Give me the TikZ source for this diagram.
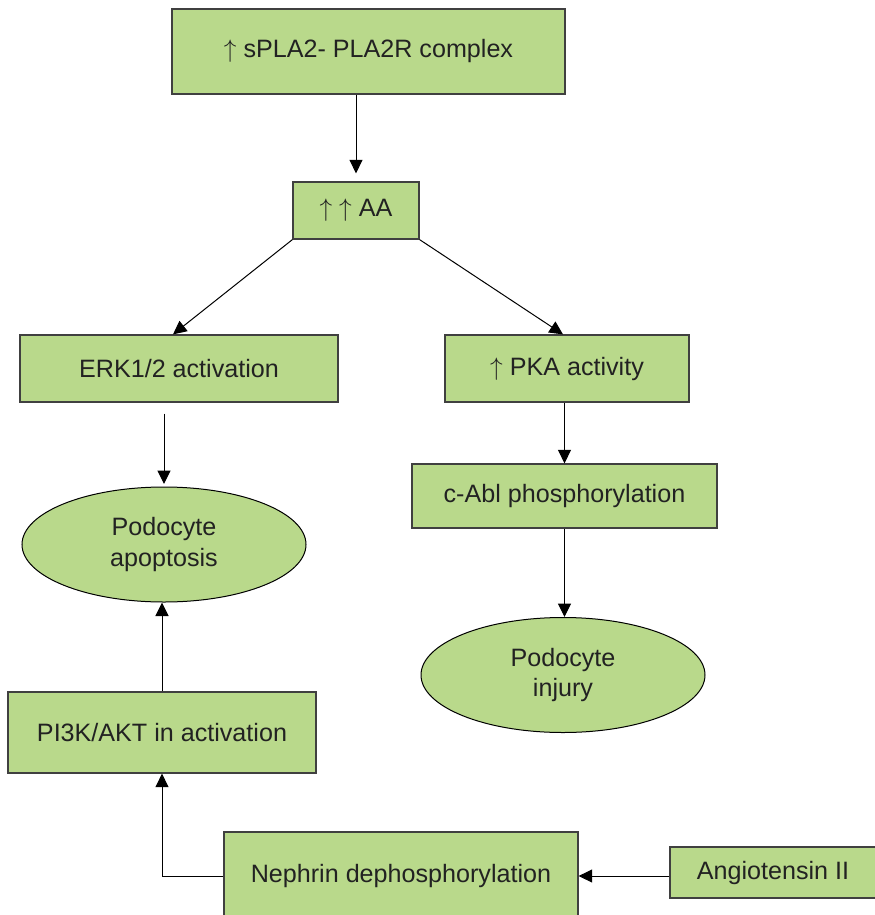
\documentclass[tikz,border=0pt]{standalone}
\usepackage{fontspec}
\setmainfont{Liberation Sans}
\usepackage{xcolor}
\definecolor{leaf_green}{RGB}{185,217,139}
\definecolor{dark_gray}{RGB}{64,64,64}
\definecolor{text_black}{RGB}{34,34,34}
\usepackage{tikz}
\usetikzlibrary{shapes.geometric, arrows.meta}
\tikzstyle{block} = [
    rectangle, text centered, inner sep=0mm,
    line width=0.25mm, draw=dark_gray, fill=leaf_green, text=text_black,
    font=\fontsize{14.3}{17.5}\selectfont,
]
\tikzstyle{outcome} = [
    ellipse, align=center, inner sep=0mm,
    line width=0.2mm, draw=black, fill=leaf_green, text=text_black,
    font=\fontsize{14.3}{17.5}\selectfont,
]
\tikzstyle{arrow} = [line width=0.2mm, -{Triangle[length=2.7mm, width=2.6mm]}, black]

\begin{document}
\begin{tikzpicture}
    \useasboundingbox (0,0) rectangle (17.5,-18.3);

    % upper nodes
    \node[block, minimum width=7.86cm, minimum height=1.7cm] (spla_complex) at (7.37,-1.03) {$\uparrow$ sPLA2- PLA2R complex\hspace{0.3cm}};
    \node[block, minimum width=2.52cm, minimum height=1.14cm] (aa_level) at (7.12,-4.21) {$\uparrow$ $\uparrow$ AA};

    % left branch nodes
    \node[block, minimum width=6.36cm, minimum height=1.34cm] (erk_activation) at (3.58,-7.37) {ERK1/2 activation};
    \node[outcome, minimum width=5.68cm, minimum height=2.3cm] (podocyte_apoptosis) at (3.28,-10.89) {Podocyte\\apoptosis};
    \node[block, minimum width=6.16cm, minimum height=1.62cm] (pi3k_akt) at (3.24,-14.65) {PI3K/AKT in activation};

    % right branch nodes
    \node[block, minimum width=4.88cm, minimum height=1.34cm] (pka_activity) at (11.34,-7.37) {$\uparrow$ PKA activity};
    \node[block, minimum width=6.1cm, minimum height=1.28cm] (cabl_phos) at (11.29,-9.92) {c-Abl phosphorylation\hspace{0.3cm}};
    \node[outcome, minimum width=5.68cm, minimum height=2.3cm] (podocyte_injury) at (11.26,-13.5) {Podocyte\\injury};

    % bottom nodes
    \node[block, minimum width=7.08cm, minimum height=1.76cm] (nephrin_dephos) at (8.02,-17.52) {\raisebox{-0.06cm}{Nephrin dephosphorylation}};
    \node[block, minimum width=4.12cm, minimum height=1.02cm] (angiotensin) at (15.46,-17.45) {Angiotensin II};

    % arrows from the top
    \draw[arrow, shorten >=0.16cm] (spla_complex.south -| aa_level.north) to (aa_level.north);
    \draw[arrow] (aa_level.south west) to ([xshift=-0.12cm]erk_activation.north);
    \draw[arrow] (aa_level.south east) to ([xshift=-0.08cm]pka_activity.north);

    % arrows in left branch
    \draw[arrow, shorten >=0.05cm] ([yshift=-0.22cm]erk_activation.south -| podocyte_apoptosis.north) to (podocyte_apoptosis.north);
    \draw[arrow] (pi3k_akt.north) to (pi3k_akt.north |- podocyte_apoptosis.south);
    \draw[arrow] (nephrin_dephos.west) -| (pi3k_akt.south);

    % arrows in right branch
    \draw[arrow] (pka_activity.south -| cabl_phos.north) to (cabl_phos.north);
    \draw[arrow] (cabl_phos.south) to (cabl_phos.south |- podocyte_injury.north);

    % arrow into nephrin
    \draw[arrow] (nephrin_dephos.east -| angiotensin.west) to (nephrin_dephos.east);
\end{tikzpicture}
\end{document}
